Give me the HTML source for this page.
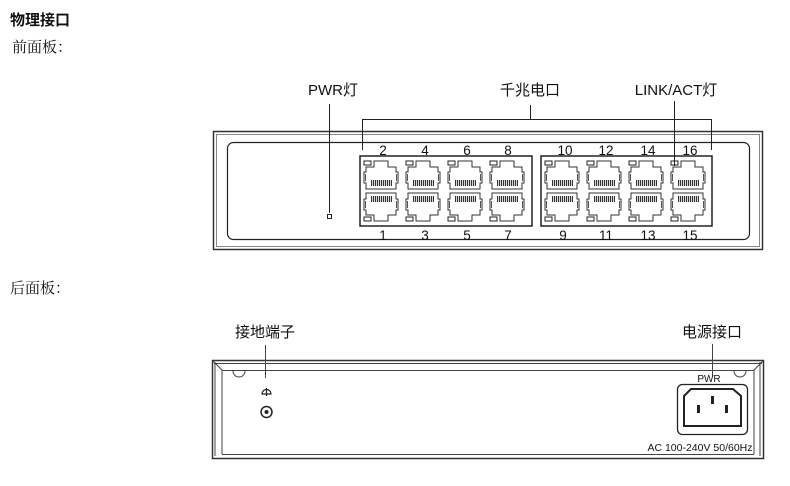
<!DOCTYPE html>
<html><head><meta charset="utf-8"><style>
html,body{margin:0;padding:0;background:#fff;}
svg{display:block}
.t{font-family:"Liberation Sans","Noto Sans CJK SC",sans-serif;fill:#111}
.s{font-family:"Liberation Serif","Noto Serif CJK SC",serif;fill:#111}
</style></head><body>
<svg width="790" height="486" viewBox="0 0 790 486" xmlns="http://www.w3.org/2000/svg">
<defs>
<pattern id="h" width="2" height="6" patternUnits="userSpaceOnUse"><rect width="1.2" height="6" fill="#333"/></pattern>
<g id="p">
<rect x="1" y="2" width="7" height="4" fill="#fff" stroke="#222" stroke-width="1"/>
<path d="M3,8 H11 V2 H25 V8 H33 V13 H35 V24 H33 V30 H3 V24 H1 V13 H3 Z" fill="#fff" stroke="#333" stroke-width="1"/>
<rect x="8" y="21" width="21" height="6" fill="url(#h)"/>
<line x1="2.5" y1="15" x2="2.5" y2="22" stroke="#555"/>
<line x1="33.5" y1="15" x2="33.5" y2="22" stroke="#555"/>
</g>
<g id="q"><use href="#p" transform="translate(0,32) scale(1,-1)"/></g>
</defs>

<text x="10" y="25" class="t" font-size="15" font-weight="bold">物理接口</text>
<text x="12" y="52" class="s" font-size="15">前面板：</text>
<text x="10" y="293" class="s" font-size="15">后面板：</text>

<!-- Front panel -->
<rect x="213.5" y="131.5" width="549" height="118" fill="#fff" stroke="#333" stroke-width="1.5"/>
<rect x="216.5" y="134.5" width="543" height="112" fill="none" stroke="#888" stroke-width="1"/>
<rect x="227.5" y="142.5" width="522" height="97" rx="6" fill="#fff" stroke="#222" stroke-width="1.2"/>

<rect x="360" y="156" width="172" height="70" fill="#fff" stroke="#222" stroke-width="1.5"/>
<rect x="541" y="156" width="171" height="70" fill="#fff" stroke="#222" stroke-width="1.5"/>

<g>
<use href="#p" x="363" y="159"/><use href="#p" x="405" y="159"/><use href="#p" x="447" y="159"/><use href="#p" x="489" y="159"/>
<use href="#q" x="363" y="191"/><use href="#q" x="405" y="191"/><use href="#q" x="447" y="191"/><use href="#q" x="489" y="191"/>
<use href="#p" x="544" y="159"/><use href="#p" x="586" y="159"/><use href="#p" x="628" y="159"/><use href="#p" x="670" y="159"/>
<use href="#q" x="544" y="191"/><use href="#q" x="586" y="191"/><use href="#q" x="628" y="191"/><use href="#q" x="670" y="191"/>
</g>

<g class="t" font-size="13.5" text-anchor="middle">
<text x="383" y="155">2</text><text x="425" y="155">4</text><text x="467" y="155">6</text><text x="508" y="155">8</text>
<text x="565" y="155">10</text><text x="606" y="155">12</text><text x="648" y="155">14</text><text x="690" y="155">16</text>
<text x="383" y="240">1</text><text x="425" y="240">3</text><text x="467" y="240">5</text><text x="508" y="240">7</text>
<text x="563" y="240">9</text><text x="606" y="240">11</text><text x="648" y="240">13</text><text x="690" y="240">15</text>
</g>

<!-- callouts -->
<g stroke="#222" stroke-width="1" fill="none">
<line x1="329.5" y1="104" x2="329.5" y2="213"/>
<rect x="327.5" y="214.5" width="4" height="4" fill="#fff"/>
<polyline points="362.5,150 362.5,119.5 711.5,119.5 711.5,150"/>
<line x1="530.5" y1="105" x2="530.5" y2="119"/>
<line x1="674.5" y1="101" x2="674.5" y2="166"/>
</g>
<text x="333" y="95" class="t" font-size="15" text-anchor="middle">PWR灯</text>
<text x="530" y="95" class="t" font-size="15" text-anchor="middle">千兆电口</text>
<text x="676" y="95" class="t" font-size="15" text-anchor="middle">LINK/ACT灯</text>

<!-- Rear panel -->
<rect x="212.5" y="360.5" width="551" height="98" fill="#fff" stroke="#333" stroke-width="1.5"/>
<g stroke="#444" stroke-width="1" fill="none">
<line x1="215" y1="362" x2="215" y2="456"/>
<line x1="760" y1="362" x2="760" y2="456"/>
<line x1="214" y1="363.5" x2="762" y2="363.5"/>
<line x1="222" y1="370.5" x2="754" y2="370.5"/>
<line x1="222" y1="370" x2="222" y2="454"/>
<line x1="754" y1="370" x2="754" y2="454"/>
<line x1="222" y1="454.5" x2="754" y2="454.5"/>
<line x1="213" y1="361" x2="222" y2="370"/>
<line x1="763" y1="361" x2="754" y2="370"/>
<path d="M233,371 A6,6 0 0 0 245,371"/>
<path d="M734,371 A6,6 0 0 0 746,371"/>
<line x1="265.5" y1="345" x2="265.5" y2="378"/>
<line x1="712.5" y1="344" x2="712.5" y2="376"/>
<circle cx="266.5" cy="412" r="5.5" stroke="#222" stroke-width="1.5"/>
<rect x="677.5" y="384.5" width="70" height="50" rx="5" stroke="#222" stroke-width="1.3"/>
<path d="M684,396 L691,389 H733 L741,396 V426 H684 Z" stroke="#222" stroke-width="2"/>
</g>
<circle cx="266.5" cy="412" r="2" fill="#222"/>
<path d="M262,394 A4.5,4.5 0 0 1 271,394 Z M266.5,388 V396" stroke="#222" stroke-width="1.2" fill="none"/>
<rect x="711" y="396" width="3" height="8" fill="#222"/>
<rect x="697" y="405" width="3" height="8" fill="#222"/>
<rect x="725" y="405" width="3" height="8" fill="#222"/>
<text x="709" y="382" class="t" font-size="10" text-anchor="middle">PWR</text>
<text x="700" y="451" class="t" font-size="10.5" text-anchor="middle">AC 100-240V 50/60Hz</text>
<text x="265" y="337" class="t" font-size="15" text-anchor="middle">接地端子</text>
<text x="712" y="337" class="t" font-size="15" text-anchor="middle">电源接口</text>
</svg>
</body></html>
